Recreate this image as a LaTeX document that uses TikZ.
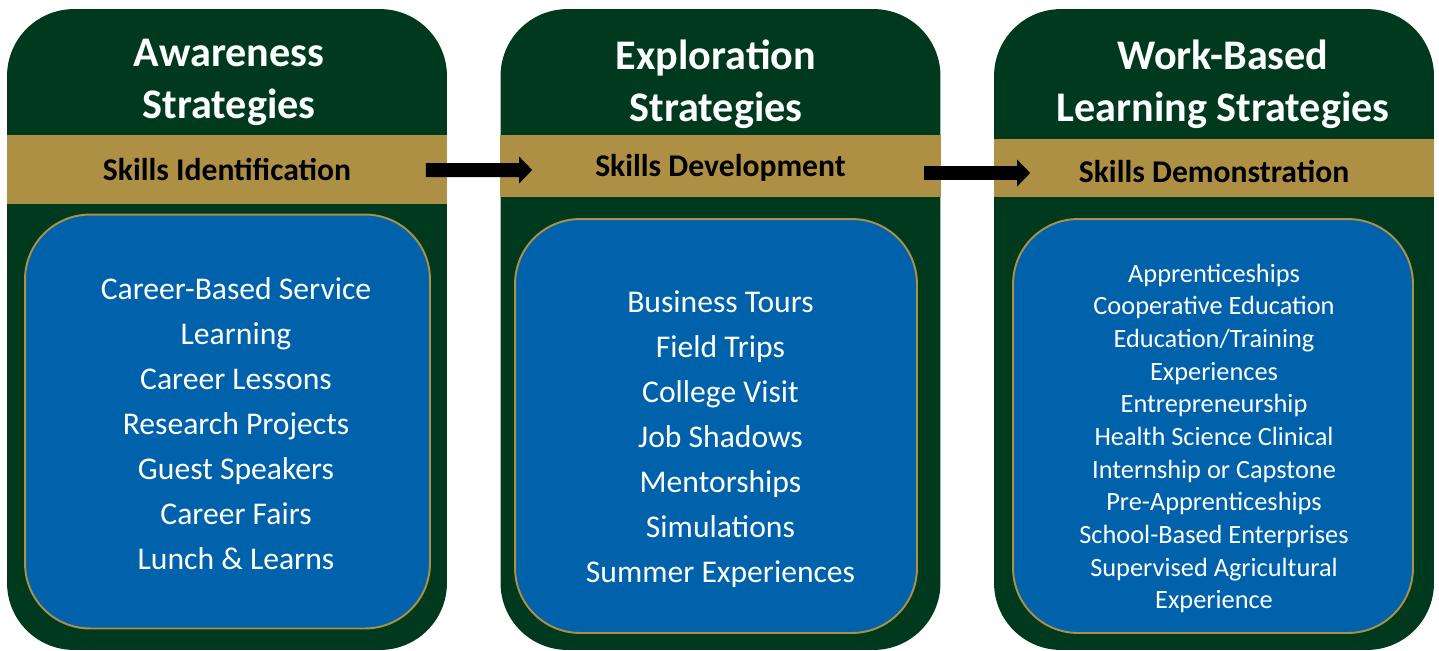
\documentclass[tikz,border=0pt]{standalone}
\usepackage{fontspec}
\setmainfont{Carlito}
\usepackage{tikz}
\usetikzlibrary{arrows.meta,positioning,calc}
\definecolor{panelgreen}{RGB}{0,58,30}
\definecolor{bandgold}{RGB}{174,144,68}
\definecolor{listblue}{RGB}{0,98,171}

\begin{document}
\begin{tikzpicture}[
    x=0.02cm, y=-0.02cm,
    panel/.style={rectangle, fill=panelgreen, rounded corners=1.34cm, minimum width=8.8cm, minimum height=12.82cm, inner sep=0pt},
    band/.style={rectangle, fill=bandgold, minimum width=8.82cm, inner sep=0pt, text height=14pt, text depth=2pt, font=\fontsize{18}{22}\selectfont\bfseries},
    heading/.style={align=center, text=white, inner sep=0pt, anchor=north, font=\fontsize{24}{29.6}\selectfont\bfseries},
    listbox/.style={rectangle, fill=listblue, draw=bandgold, line width=1.1pt, rounded corners=1.3cm, minimum height=8.28cm},
    items/.style={align=center, text=white, inner sep=0pt, font=\fontsize{18}{25.6}\selectfont},
    arrow/.style={-{Triangle[length=0.26cm, width=0.52cm]}, line width=0.28cm, black}
]
    \useasboundingbox (0,0) rectangle (1439,650);

    % three columns
    \node[panel] (aware) at (227,329.5) {};
    \node[panel] (explore) at (720.5,329.5) {};
    \node[panel] (work) at (1214,329.5) {};

    \node[heading] (awaretitle) at (229,39) {Awareness\\Strategies};
    \node[heading] (exploretitle) at (716,39) {Exploration\\Strategies};
    \node[heading] (worktitle) at (1223,40) {Work-Based\\Learning Strategies};

    \node[band, minimum height=1.38cm] (identify) at (227,169.5) {Skills Identification};
    \node[band, minimum height=1.24cm] (develop) at (720.5,166) {Skills Development};
    \node[band, minimum height=1.16cm, text height=19pt] (demo) at (1214,168) {Skills Demonstration};

    \node[listbox, minimum width=8.1cm] (awarebox) at (227.5,421.5) {};
    \node[listbox, minimum width=8.04cm] (explorebox) at (716,426) {};
    \node[listbox, minimum width=8.0cm] (workbox) at (1213,426) {};

    \node[items] (awarelist) at (236,424) {Career-Based Service\\Learning\\Career Lessons\\Research Projects\\Guest Speakers\\Career Fairs\\Lunch \& Learns};
    \node[items] (explorelist) at (720.5,439) {Business Tours\\Field Trips\\College Visit\\Job Shadows\\Mentorships\\Simulations\\Summer Experiences};
    \node[items, font=\fontsize{15}{18.6}\selectfont] (worklist) at (1214,438.5) {Apprenticeships\\Cooperative Education\\Education/Training\\Experiences\\Entrepreneurship\\Health Science Clinical\\Internship or Capstone\\Pre-Apprenticeships\\School-Based Enterprises\\Supervised Agricultural\\Experience};

    \draw[arrow] ($(identify.east)+(-22,0.5)$) -- ($(develop.west)+(32.5,4)$);
    \draw[arrow] ($(develop.east)+(-17.5,7)$) -- ($(demo.west)+(37,5)$);
\end{tikzpicture}
\end{document}
